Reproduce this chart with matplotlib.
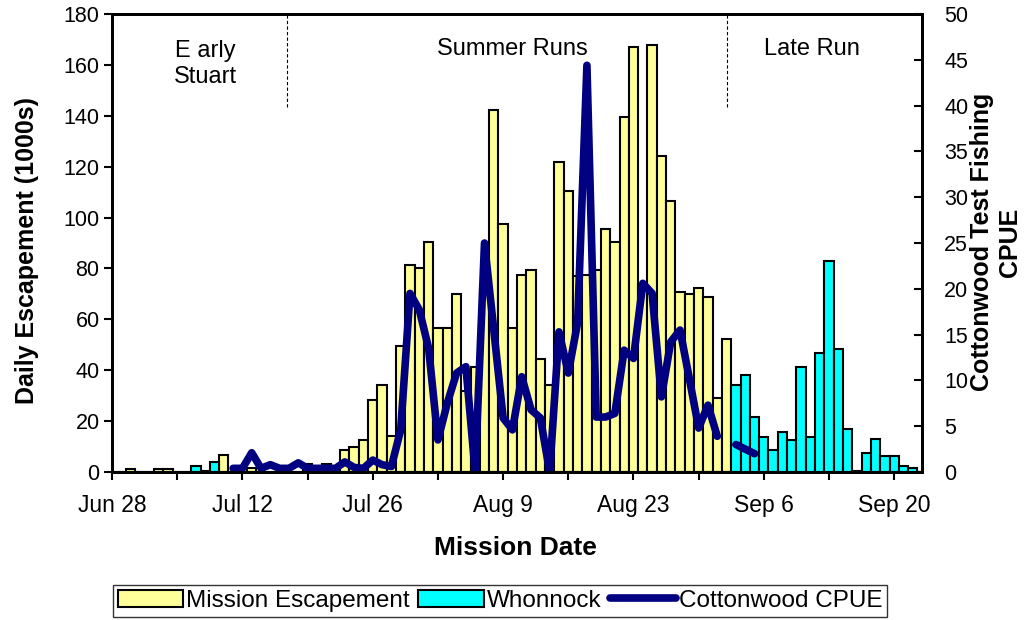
import matplotlib.pyplot as plt
import numpy as np
from matplotlib.patches import Patch
from matplotlib.lines import Line2D
from matplotlib.transforms import blended_transform_factory

plt.rcParams['font.family'] = ['Liberation Sans', 'DejaVu Sans']

nan = np.nan

# one value per day, Jun 28 (day 0) .. Sep 23 (day 87)
days = np.arange(88)

mission = [0, 0, 1.0, 0, 0, 1.0, 1.0, 0, 0, 0,
           0, 0, 6.5, 0, 0, 1.5, 0, 0, 0, 0,
           0, 3.0, 2.0, 3.0, 1.0, 8.7, 9.8, 12.7, 28.2, 34.1,
           14.0, 49.5, 81.2, 80.3, 90.5, 56.7, 56.7, 70.1, 32.0, 41.4,
           71.8, 142.4, 97.5, 56.5, 77.3, 79.2, 44.3, 34.1, 121.8, 110.6,
           77.0, 77.5, 79.3, 95.6, 90.3, 139.5, 166.9, 74.0, 167.8, 124.0,
           106.7, 70.9, 69.8, 72.2, 68.9, 29.0, 52.4, 0, 0, 0,
           0, 0, 0, 0, 0, 0, 0, 0, 0, 0,
           0, 0, 0, 0, 0, 0, 0, 0]

whonnock = [0, 0, 0, 0, 0, 0, 0, 0, 0, 2.5,
            0.4, 3.9, 0, 0, 0, 0, 0, 0, 0, 0,
            0, 0, 0, 0, 0, 0, 0, 0, 0, 0,
            0, 0, 0, 0, 0, 0, 0, 0, 0, 0,
            0, 0, 0, 0, 0, 0, 0, 0, 0, 0,
            0, 0, 0, 0, 0, 0, 0, 0, 0, 0,
            0, 0, 0, 0, 0, 0, 0, 34.1, 38.2, 21.8,
            13.6, 8.8, 15.8, 12.7, 41.4, 13.6, 46.7, 83.1, 48.5, 16.9,
            0.3, 7.5, 12.9, 6.4, 6.4, 2.5, 1.4, 0]

cpue = [nan, nan, nan, nan, nan, nan, nan, nan, nan, nan,
        nan, nan, nan, 0.4, 0.4, 2.1, 0.4, 0.8, 0.4, 0.4,
        1.0, 0.4, 0.4, 0.4, 0.4, 1.1, 0.5, 0.4, 1.3, 0.8,
        0.6, 4.6, 19.5, 17.7, 13.5, 3.5, 7.5, 10.8, 11.5, 0.0,
        25.0, 15.5, 5.9, 4.6, 10.4, 6.8, 5.9, 0.0, 15.3, 10.8,
        16.3, 44.4, 6.0, 6.0, 6.4, 13.3, 12.4, 20.6, 19.5, 8.2,
        14.2, 15.5, 10.2, 4.8, 7.3, 3.9, nan, 3.0, 2.5, 2.0,
        nan, nan, nan, nan, nan, nan, nan, nan, nan, nan,
        nan, nan, nan, nan, nan, nan, nan, nan]

tick_days = [0, 14, 28, 42, 56, 70, 84]
tick_labels = ['Jun 28', 'Jul 12', 'Jul 26', 'Aug 9', 'Aug 23', 'Sep 6', 'Sep 20']
run_breaks = [18.8, 66.0]
run_names = [(10.0, 'E arly\nStuart'), (43.0, 'Summer Runs'), (75.2, 'Late Run')]

fig = plt.figure(figsize=(10.28, 6.2), dpi=100)
ax = fig.add_axes([0.109, 0.2387, 0.788, 0.7387])

ax.bar(days, mission, width=1.0, color='#FFFF99', edgecolor='black', linewidth=1.5)
ax.bar(days, whonnock, width=1.0, color='#00FFFF', edgecolor='black', linewidth=1.5)

ax2 = ax.twinx()
ax2.plot(days, cpue, color='#000080', linewidth=5.5,
         solid_capstyle='round', solid_joinstyle='round')

ax.set_xlim(0, 87)
ax.set_ylim(0, 180)
ax.set_yticks(range(0, 181, 20))
ax2.set_ylim(0, 50)
ax2.set_yticks(range(0, 51, 5))
ax.set_xticks(tick_days, tick_labels)
ax.set_xticks([d + 7 for d in tick_days[:-1]], minor=True)

ax.tick_params(axis='x', which='both', direction='out', length=6, width=1.5,
               labelsize=16.5, pad=10)
ax.tick_params(axis='y', direction='out', length=6, width=1.5, labelsize=15.5, pad=3)
ax2.tick_params(axis='y', direction='in', length=6, width=1.5, labelsize=15.5, pad=16)
for a in (ax, ax2):
    for s in a.spines.values():
        s.set_linewidth(2)

trans = blended_transform_factory(ax.transData, ax.transAxes)
for b in run_breaks:
    ax.plot([b, b], [0.797, 1.0], transform=trans, color='black',
            linewidth=0.8, linestyle=(0, (3, 2)))
for x, name in run_names:
    ax.text(x, 0.891 if '\n' in name else 0.924, name, transform=trans,
            ha='center', va='center', fontsize=17, linespacing=1.2)

fig.text(27 / 1028, 1 - 251 / 620, 'Daily Escapement (1000s)', rotation=90,
         ha='center', va='center', fontsize=18, fontweight='bold')
fig.text(996 / 1028, 1 - 242 / 620, 'Cottonwood Test Fishing\nCPUE', rotation=90,
         ha='center', va='center', fontsize=18, fontweight='bold',
         multialignment='center', linespacing=1.2)
fig.text(515 / 1028, 1 - 548 / 620, 'Mission Date', ha='center', va='center',
         fontsize=19, fontweight='bold')

handles = [Patch(facecolor='#FFFF99', edgecolor='black', linewidth=1.5),
           Patch(facecolor='#00FFFF', edgecolor='black', linewidth=1.5),
           Line2D([], [], color='#000080', linewidth=5.5, solid_capstyle='round')]
leg = fig.legend(handles, ['Mission Escapement', 'Whonnock', 'Cottonwood CPUE'],
                 loc='center', bbox_to_anchor=(0.4864, 0.031), ncol=3,
                 fontsize=17.5, frameon=True, fancybox=False, edgecolor='black',
                 handlelength=2.7, handleheight=0.75, handletextpad=0.12,
                 columnspacing=0.35, borderpad=0.2, borderaxespad=0)
leg.get_frame().set_linewidth(1.0)

fig.savefig('out.png', dpi=100)
